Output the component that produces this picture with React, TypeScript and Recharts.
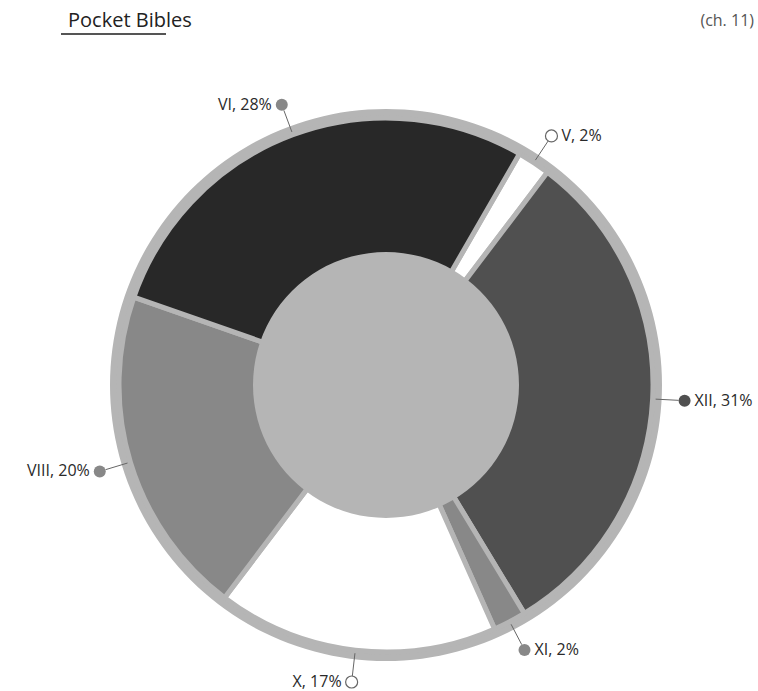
import React from 'react';
import { PieChart, Pie, Cell } from 'recharts';

const categories = ['V', 'XII', 'XI', 'X', 'VIII', 'VI'];
const shares = [2, 31, 2, 17, 20, 28];
const sliceColors = ['#ffffff', '#505050', '#888888', '#ffffff', '#888888', '#282828'];
const dotColors = ['#ffffff', '#505050', '#888888', '#ffffff', '#888888', '#888888'];

const data = categories.map((name, i) => ({ name, value: shares[i] }));
const full = [{ name: 'all', value: 1 }];

const RING = '#b5b5b5';
const RAD = Math.PI / 180;
const FONT = '"Open Sans", sans-serif';

const renderLabel = (props: any) => {
  const { cx, cy, midAngle, index, name, value } = props;
  const c = Math.cos(-midAngle * RAD);
  const s = Math.sin(-midAngle * RAD);
  const r1 = 270;
  const rd = 299;
  const x1 = cx + r1 * c;
  const y1 = cy + r1 * s;
  const xd = cx + rd * c;
  const yd = cy + rd * s;
  const x2 = cx + (rd - 6) * c;
  const y2 = cy + (rd - 6) * s;
  const right = c > 0;
  const white = dotColors[index] === '#ffffff';
  return (
    <g key={`lbl-${index}`}>
      <line x1={x1} y1={y1} x2={x2} y2={y2} stroke="#666" strokeWidth={1} />
      <circle cx={xd} cy={yd} r={6} fill={dotColors[index]} stroke={white ? '#666' : 'none'} strokeWidth={1.2} />
      <text
        x={right ? xd + 10 : xd - 10}
        y={yd + 5}
        textAnchor={right ? 'start' : 'end'}
        fontFamily={FONT}
        fontSize={16}
        fontWeight={500}
        fill="#2a2a2a"
      >
        {`${name}, ${value}%`}
      </text>
    </g>
  );
};

export default function App() {
  return (
    <div style={{ position: 'absolute', left: 0, top: 0, width: 758, height: 691, background: '#fff' }}>
      <div
        style={{
          position: 'absolute',
          left: 68,
          top: 7,
          fontFamily: FONT,
          fontSize: 20,
          color: '#222',
          lineHeight: '26px',
        }}
      >
        Pocket Bibles
      </div>
      <div style={{ position: 'absolute', left: 61, top: 33, width: 105, height: 2, background: '#555' }} />
      <div
        style={{
          position: 'absolute',
          right: 4,
          top: 9,
          fontFamily: FONT,
          fontSize: 16,
          color: '#555',
          lineHeight: '22px',
        }}
      >
        (ch. 11)
      </div>
      <PieChart width={758} height={691} style={{ position: 'absolute', left: 0, top: 0 }}>
        <Pie
          data={full}
          dataKey="value"
          cx={381}
          cy={380}
          outerRadius={276}
          innerRadius={0}
          startAngle={90}
          endAngle={-270}
          fill={RING}
          stroke="none"
          isAnimationActive={false}
        />
        <Pie
          data={data}
          dataKey="value"
          nameKey="name"
          cx={381}
          cy={380}
          outerRadius={267}
          innerRadius={0}
          startAngle={60}
          endAngle={-300}
          stroke={RING}
          strokeWidth={5}
          label={renderLabel}
          labelLine={false}
          isAnimationActive={false}
        >
          {data.map((d, i) => (
            <Cell key={d.name} fill={sliceColors[i]} />
          ))}
        </Pie>
        <Pie
          data={full}
          dataKey="value"
          cx={381}
          cy={380}
          outerRadius={133}
          innerRadius={0}
          startAngle={90}
          endAngle={-270}
          fill={RING}
          stroke="none"
          isAnimationActive={false}
        />
      </PieChart>
    </div>
  );
}
